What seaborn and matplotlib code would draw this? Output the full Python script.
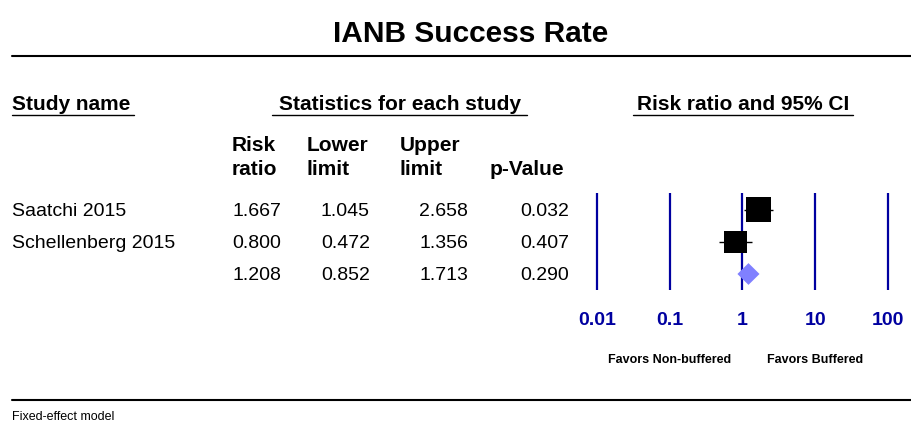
import matplotlib
matplotlib.use("Agg")
import matplotlib.pyplot as plt
import seaborn as sns
import pandas as pd

# study data
studies = ["Saatchi 2015", "Schellenberg 2015", ""]
risk_ratio = [1.667, 0.800, 1.208]
lower_limit = [1.045, 0.472, 0.852]
upper_limit = [2.658, 1.356, 1.713]
p_value = [0.032, 0.407, 0.290]
weights = [55, 45]  # relative weights of the two studies (marker size)
tick_values = [0.01, 0.1, 1, 10, 100]
tick_labels = ["0.01", "0.1", "1", "10", "100"]

sns.set_theme(style="white")
plt.rcParams["font.family"] = ["Liberation Sans", "DejaVu Sans"]
plt.rcParams["text.color"] = "black"

W, H = 912, 422
fig = plt.figure(figsize=(W / 100, H / 100), dpi=100)

# full figure axes in pixel coordinates for the table text
bg = fig.add_axes([0, 0, 1, 1])
bg.set_xlim(0, W)
bg.set_ylim(H, 0)
bg.axis("off")

bg.text(471, 42, "IANB Success Rate", ha="center", va="baseline",
        fontsize=21.5, fontweight="bold")
bg.plot([12, W], [56, 56], color="black", lw=1.5)

# section headers with underlines
hdr = dict(fontsize=15, fontweight="bold", va="baseline")
bg.text(12, 110, "Study name", ha="left", **hdr)
bg.plot([12, 134], [115, 115], color="black", lw=1)
bg.text(400, 110, "Statistics for each study", ha="center", **hdr)
bg.plot([272, 527], [115, 115], color="black", lw=1)
bg.text(743, 110, "Risk ratio and 95% CI", ha="center", **hdr)
bg.plot([633, 853], [115, 115], color="black", lw=1)

# column headers (two lines)
col_left = [232, 307, 400]
col_top = ["Risk", "Lower", "Upper"]
col_bottom = ["ratio", "limit", "limit"]
for x, a, b in zip(col_left, col_top, col_bottom):
    bg.text(x, 151, a, ha="left", **hdr)
    bg.text(x, 175, b, ha="left", **hdr)
bg.text(490, 175, "p-Value", ha="left", **hdr)

row_base = [216, 248, 280]
num_right = [281, 370, 468, 569]
for i, y in enumerate(row_base):
    bg.text(12, y, studies[i], ha="left", va="baseline", fontsize=14)
    vals = [risk_ratio[i], lower_limit[i], upper_limit[i], p_value[i]]
    for x, v in zip(num_right, vals):
        bg.text(x, y, f"{v:.3f}", ha="right", va="baseline", fontsize=14)

# bottom rule and footer
bg.plot([12, W], [400, 400], color="black", lw=1.5)
bg.text(12, 420, "Fixed-effect model", ha="left", va="baseline", fontsize=9)

# forest plot axes: 0.01 -> px 597, 100 -> px 888
x0, x1 = 580, 905
y0, y1 = 193, 290
ax = fig.add_axes([x0 / W, 1 - y1 / H, (x1 - x0) / W, (y1 - y0) / H])
ax.set_xscale("log")
ax.set_xlim(10 ** -2.233, 10 ** 2.233)
ax.set_ylim(2.5, -0.53)
ax.axis("off")
for t in tick_values:
    ax.axvline(t, color="#0000a0", lw=1.6, zorder=1)

df = pd.DataFrame({"study": studies[:2], "rr": risk_ratio[:2],
                   "lo": lower_limit[:2], "hi": upper_limit[:2],
                   "w": weights, "row": [0, 1]})
ax.hlines(df["row"], df["lo"], df["hi"], color="black", lw=1, zorder=2)
sns.scatterplot(data=df, x="rr", y="row", size="w", sizes=(262, 324),
                marker="s", color="black", linewidth=0, legend=False,
                ax=ax, zorder=3)

# pooled estimate diamond
rr, lo, hi = risk_ratio[2], lower_limit[2], upper_limit[2]
ax.fill([lo, rr, hi, rr], [2, 1.66, 2, 2.34], color="#8080ff", lw=0, zorder=3)

# tick labels below the plot
for t, lab in zip(tick_values, tick_labels):
    ax.text(t, 2.5 + 30 / 32, lab, ha="center", va="center", fontsize=14,
            fontweight="bold", color="#0000a0", clip_on=False)

ax.text(0.1, 2.5 + 70 / 32, "Favors Non-buffered", ha="center", va="center",
        fontsize=9, fontweight="bold", clip_on=False)
ax.text(10, 2.5 + 70 / 32, "Favors Buffered", ha="center", va="center",
        fontsize=9, fontweight="bold", clip_on=False)

fig.savefig("out.png", dpi=100)
